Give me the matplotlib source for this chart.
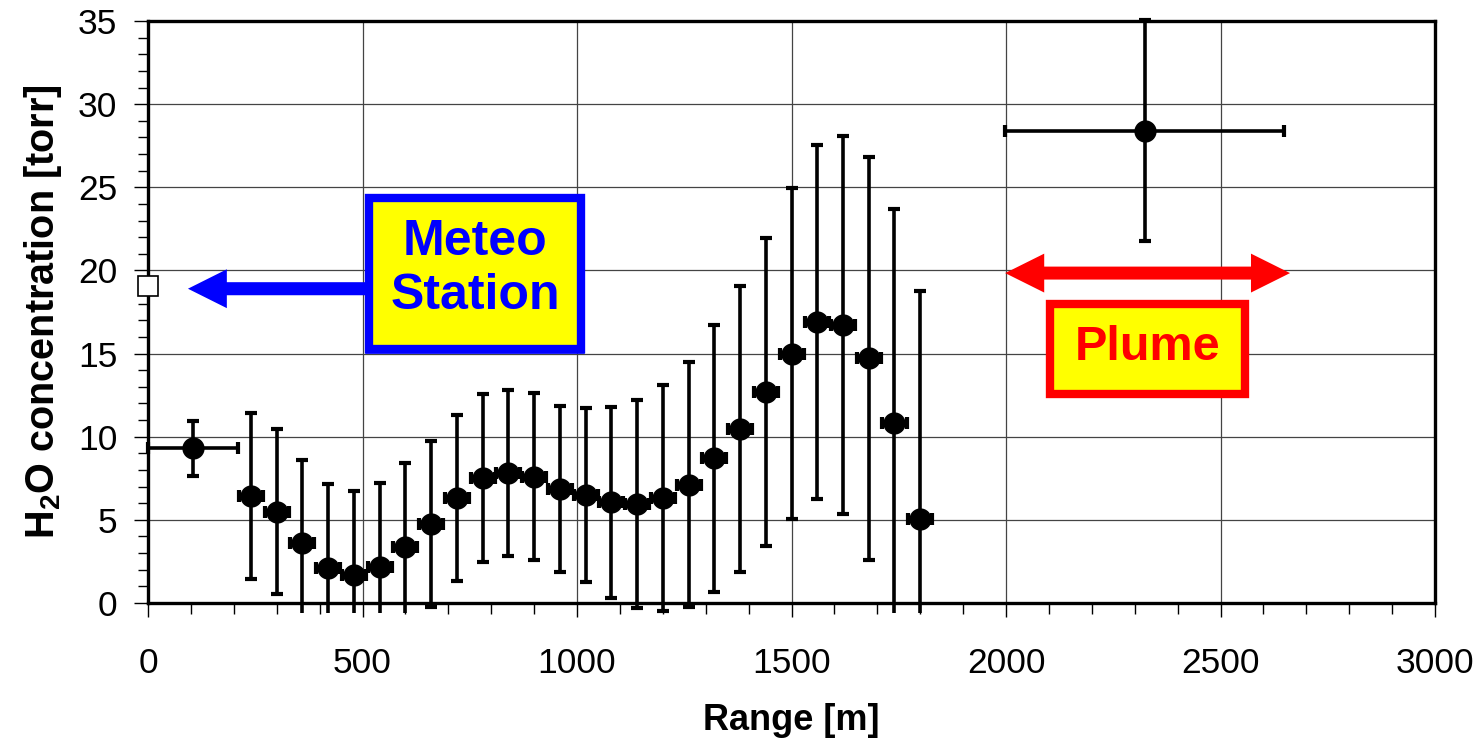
import matplotlib
matplotlib.use("Agg")
import matplotlib.pyplot as plt
from matplotlib.patches import Rectangle, FancyArrowPatch, Polygon
from matplotlib.transforms import Bbox, TransformedBbox

plt.rcParams['font.family'] = ['Liberation Sans', 'DejaVu Sans']
plt.rcParams['mathtext.fontset'] = 'custom'
plt.rcParams['mathtext.rm'] = 'Liberation Sans'
plt.rcParams['mathtext.bf'] = 'Liberation Sans:bold'

# --- data ---
range_m = [240, 300, 360, 420, 480, 540, 600, 660, 720, 780, 840, 900, 960,
           1020, 1080, 1140, 1200, 1260, 1320, 1380, 1440, 1500, 1560, 1620,
           1680, 1740, 1800]
h2o = [6.45, 5.49, 3.59, 2.08, 1.68, 2.18, 3.39, 4.75, 6.33, 7.50, 7.80, 7.60,
       6.86, 6.50, 6.05, 5.95, 6.30, 7.10, 8.70, 10.46, 12.71, 15.00, 16.92,
       16.72, 14.71, 10.84, 5.05]
h2o_err = [5.0, 4.98, 5.0, 5.08, 5.07, 5.03, 5.01, 4.98, 4.98, 5.05, 5.0, 5.03,
           5.0, 5.24, 5.74, 6.24, 6.81, 7.37, 8.02, 8.6, 9.26, 9.95, 10.65,
           11.36, 12.1, 12.85, 13.71]
range_err = 28

# first (near) cell
near_x, near_y, near_xerr, near_yerr = 105, 9.30, 105, 1.65
# plume cell
plume_x, plume_y, plume_xerr, plume_yerr = 2323, 28.4, 325, 6.66
# meteo station reading
meteo_x, meteo_y = 0, 19.05

fig = plt.figure(figsize=(14.82, 7.48), dpi=100)
ax = fig.add_axes([0.0999, 0.1939, 0.8684, 0.7780])

ax.set_xlim(0, 3000)
ax.set_ylim(0, 35)
ax.set_xticks(range(0, 3001, 500))
ax.set_xticks(range(0, 3001, 100), minor=True)
ax.set_yticks(range(0, 36, 5))
ax.set_yticks(range(0, 36, 1), minor=True)
ax.grid(True, which='major', color='#444444', linewidth=0.9)
ax.set_axisbelow(True)

for s in ax.spines.values():
    s.set_linewidth(2.4)
ax.tick_params(axis='both', which='both', direction='out', width=1.0, color='black')
ax.tick_params(axis='x', which='major', length=10, pad=22, labelsize=25.5)
ax.tick_params(axis='x', which='minor', length=8)
ax.tick_params(axis='y', which='major', length=10, pad=12, labelsize=25.5)
ax.tick_params(axis='y', which='minor', length=7)

ax.set_xlabel("Range [m]", fontsize=26, fontweight='bold', labelpad=16)
ax.set_ylabel(r"H$_\mathbf{2}$O concentration [torr]", fontsize=28.5,
              fontweight='bold', labelpad=10)

clip = TransformedBbox(Bbox.from_extents(-200, -0.6, 3200, 36.0), ax.transData)

eb_kw = dict(fmt='o', color='black', ms=15, elinewidth=2.6, capsize=4.3,
             capthick=3, zorder=3)
conts = [
    ax.errorbar(range_m, h2o, yerr=h2o_err, xerr=range_err, **eb_kw),
    ax.errorbar(near_x, near_y, yerr=near_yerr, xerr=near_xerr, **eb_kw),
    ax.errorbar(plume_x, plume_y, yerr=plume_yerr, xerr=plume_xerr, **eb_kw),
]
for c in conts:
    _, caps, bars = c.lines
    for a in list(caps) + list(bars):
        a.set_clip_path(None)
        a.set_clip_box(clip)

ax.plot(meteo_x, meteo_y, 's', ms=14, mfc='white', mec='black', mew=1.2,
        clip_on=False, zorder=5)

arrow_style = 'simple,head_length=28,head_width=28,tail_width=9.4'

# Meteo station label and arrow
ax.add_patch(Rectangle((508, 15.05), 508, 9.5, fc='none', ec='blue',
                       lw=1.2, zorder=6))
ax.add_patch(Rectangle((515, 15.27), 494, 9.08, fc='yellow', ec='blue',
                       lw=6, zorder=6))
ax.text(762, 20.1, "Meteo\nStation", color='blue', fontsize=36,
        fontweight='bold', ha='center', va='center', linespacing=1.22, zorder=7)
ax.add_patch(FancyArrowPatch((515, 18.9), (93, 18.9), arrowstyle=arrow_style,
                             fc='blue', ec='blue', lw=0, shrinkA=0, shrinkB=0,
                             zorder=6))

# Plume label and double-headed arrow (outline in data units)
x0, x1, yc = 1998, 2662, 19.84
hl, hw, sw = 91, 1.17, 0.39
ax.add_patch(Polygon([(x0, yc), (x0 + hl, yc + hw), (x0 + hl, yc + sw),
                      (x1 - hl, yc + sw), (x1 - hl, yc + hw), (x1, yc),
                      (x1 - hl, yc - hw), (x1 - hl, yc - sw),
                      (x0 + hl, yc - sw), (x0 + hl, yc - hw)],
                     closed=True, fc='red', ec='none', zorder=6))
ax.add_patch(Rectangle((2102, 12.57), 455, 5.41, fc='yellow', ec='red',
                       lw=6, zorder=6))
ax.text(2329, 15.35, "Plume", color='red', fontsize=35, fontweight='bold',
        ha='center', va='center', zorder=7)

fig.savefig("out.png", dpi=100, facecolor='white')
